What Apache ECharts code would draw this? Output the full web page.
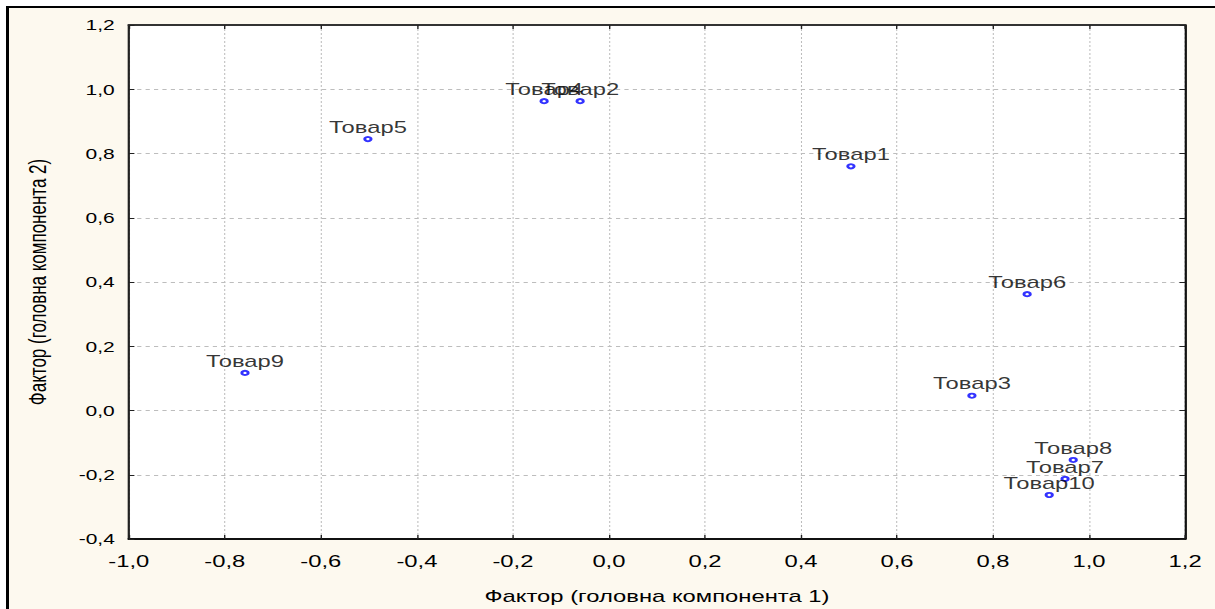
<!DOCTYPE html>
<html>
<head>
<meta charset="utf-8">
<script src="https://cdn.jsdelivr.net/npm/echarts@6/dist/echarts.min.js"></script>
<style>
  html, body { margin: 0; padding: 0; background: #ffffff; width: 1215px; height: 609px; overflow: hidden; }
  #frame { position: absolute; left: 6px; top: 6px; width: 1300px; height: 700px;
           border-left: 3px solid #000; border-top: 2px solid #000; background: #FDF9EF; }
  #chart { position: absolute; left: 0; top: 0; width: 868px; height: 609px;
           transform: scaleX(1.4); transform-origin: 0 0; }
</style>
</head>
<body>
<div id="frame"></div>
<div id="chart"></div>
<script>
const names = ['Товар1','Товар2','Товар3','Товар4','Товар5','Товар6','Товар7','Товар8','Товар9','Товар10'];
const factor1 = [0.504, -0.060, 0.756, -0.135, -0.502, 0.871, 0.950, 0.967, -0.758, 0.917];
const factor2 = [0.760, 0.963, 0.046, 0.963, 0.845, 0.362, -0.213, -0.154, 0.117, -0.263];
const xTitle = 'Фактор (головна компонента 1)';
const yTitle = 'Фактор (головна компонента 2)';
const xMin = -1.0, xMax = 1.2, xStep = 0.2;
const yMin = -0.4, yMax = 1.2, yStep = 0.2;

const fmt = v => (Math.abs(v) < 1e-9 ? 0 : v).toFixed(1).replace('.', ',');
const font = '"Liberation Sans", Arial, sans-serif';

const chart = echarts.init(document.getElementById('chart'), null, { renderer: 'svg' });
const points = names.map((n, i) => ({ name: n, value: [factor1[i], factor2[i]] }));

const tickStyle = { show: true, inside: true, length: 4, lineStyle: { color: '#222', width: 1 } };

chart.setOption({
  animation: false,
  backgroundColor: 'transparent',
  grid: { left: 92, right: 21.5, top: 25, bottom: 70, show: true, backgroundColor: '#ffffff', borderWidth: 0 },
  xAxis: [
    { type: 'value', min: xMin, max: xMax, interval: xStep, position: 'bottom',
      name: xTitle, nameLocation: 'middle', nameGap: 48,
      nameTextStyle: { fontFamily: font, fontSize: 17, color: '#000' },
      axisLine: { show: true, onZero: false, lineStyle: { color: '#111', width: 2 } },
      axisTick: tickStyle,
      axisLabel: { formatter: fmt, fontFamily: font, fontSize: 17, color: '#000', margin: 13 },
      splitLine: { show: true, lineStyle: { color: '#bdbdbd', width: 0.75, type: [2, 2] } } },
    { type: 'value', min: xMin, max: xMax, interval: xStep, position: 'top',
      axisLine: { show: true, onZero: false, lineStyle: { color: '#333', width: 2 } },
      axisTick: tickStyle, axisLabel: { show: false }, splitLine: { show: false } }
  ],
  yAxis: [
    { type: 'value', min: yMin, max: yMax, interval: yStep, position: 'left',
      name: yTitle, nameLocation: 'middle', nameGap: 57,
      nameTextStyle: { fontFamily: font, fontSize: 17, color: '#000' },
      axisLine: { show: true, onZero: false, lineStyle: { color: '#222', width: 1.6 } },
      axisTick: tickStyle,
      axisLabel: { formatter: fmt, fontFamily: font, fontSize: 15, color: '#000', margin: 10 },
      splitLine: { show: true, lineStyle: { color: '#bdbdbd', width: 1, type: [3, 3] } } },
    { type: 'value', min: yMin, max: yMax, interval: yStep, position: 'right',
      axisLine: { show: true, onZero: false, lineStyle: { color: '#111', width: 1.6 } },
      axisTick: tickStyle, axisLabel: { show: false }, splitLine: { show: false } }
  ],
  series: [{
    type: 'scatter',
    xAxisIndex: 0, yAxisIndex: 0,
    data: points,
    symbol: 'emptyCircle',
    symbolSize: [4.6, 4.2],
    itemStyle: { color: '#0000ff', borderColor: '#0000ff', borderWidth: 1.5 },
    label: { show: true, position: 'top', distance: 1, formatter: p => p.name,
             fontFamily: font, fontSize: 17, color: '#000' },
    emphasis: { disabled: true }
  }]
});
</script>
</body>
</html>
